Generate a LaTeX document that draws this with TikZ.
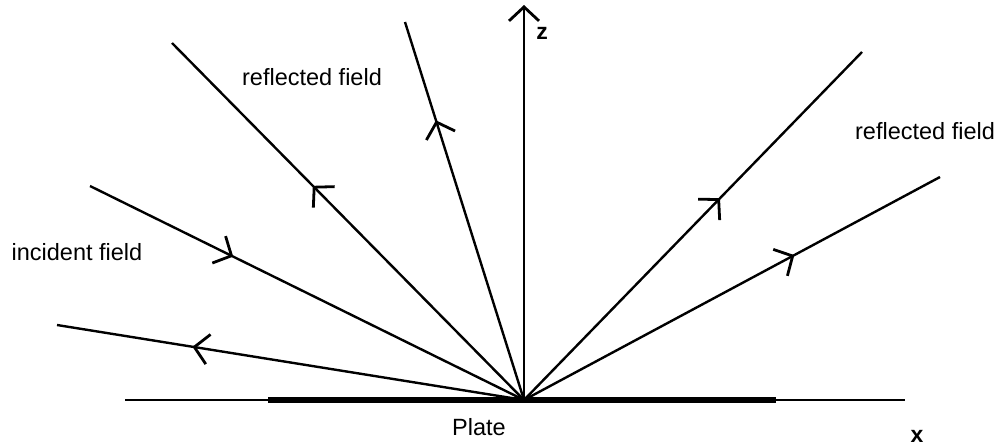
\documentclass[tikz,border=0pt]{standalone}
\usepackage{fontspec}
\setmainfont{Liberation Sans}
\usetikzlibrary{arrows.meta,decorations.markings}
\begin{document}
\begin{tikzpicture}[x=1pt,y=-1pt,
  ray/.style={line width=2.4pt},
  barb/.tip={Straight Barb[length=14pt,width=30pt,line width=2.8pt]},
  midarrow/.style={postaction={decorate},decoration={markings,mark=at position #1 with {\arrow{barb}}}},
  lbl/.style={font=\fontsize{23.5}{28}\selectfont, inner sep=0pt},
  axlbl/.style={font=\fontsize{23}{27}\selectfont\bfseries, inner sep=0pt}]
\useasboundingbox (0,0) rectangle (1002,447);
\coordinate (O) at (524,400);
\coordinate (A) at (172,43);
\coordinate (B) at (405,22);
\coordinate (C) at (90,186);
\coordinate (D) at (57,325);
\coordinate (E) at (862,52);
\coordinate (F) at (940,177);
\coordinate (Z) at (524,5);
\coordinate (HL) at (125,400);
\coordinate (HR) at (905,400);
\coordinate (PL) at (268,400);
\coordinate (PR) at (776,400);
% base line and plate
\draw[line width=2.2pt] (HL) -- (HR);
\draw[line width=5.5pt] (PL) -- (PR);
% z axis
\draw[ray,-{barb}] (O) -- (Z);
% rays
\draw[ray,midarrow=0.60] (O) -- (A);
\draw[ray,midarrow=0.74] (O) -- (B);
\draw[ray,midarrow=0.33] (C) -- (O);
\draw[ray,midarrow=0.71] (O) -- (D);
\draw[ray,midarrow=0.58] (O) -- (E);
\draw[ray,midarrow=0.65] (O) -- (F);
% labels
\node[lbl] (rf1) at (312,77) {reflected field};
\node[lbl] (rf2) at (925,131) {reflected field};
\node[lbl] (inc) at (77,252) {incident field};
\node[lbl] (plate) at (479,427) {Plate};
\node[axlbl] (zl) at (542,33) {z};
\node[axlbl] (xl) at (917,436) {x};
\end{tikzpicture}
\end{document}
